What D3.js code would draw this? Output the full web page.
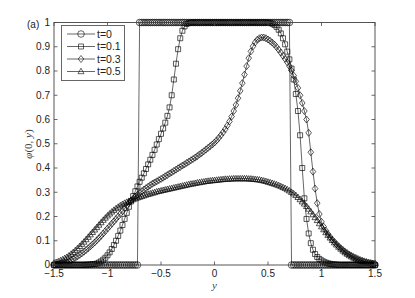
<!DOCTYPE html>
<html>
<head>
<meta charset="utf-8">
<script src="https://cdn.jsdelivr.net/npm/d3@7"></script>
<style>
  body { margin: 0; background: #fff; }
  .tick-label { font-family: "Liberation Sans", Arial, sans-serif; font-size: 10px; fill: #222; }
  .legend-label { font-family: "Liberation Sans", Arial, sans-serif; font-size: 10.5px; fill: #222; }
  .axis-title { font-family: "Liberation Serif", "DejaVu Serif", serif; font-size: 11px; fill: #444; }
</style>
</head>
<body>
<script>
//sample positions y = -1.5 : 0.02 : 1.5
var yGrid = d3.range(151).map(function(i){ return +(-1.5 + i * 0.02).toFixed(2); });

//phi(0,y) at t = 0
var phiT0 = [
  0,0,0,0,0,0,0,0,0,0,
  0,0,0,0,0,0,0,0,0,0,
  0,0,0,0,0,0,0,0,0,0,
  0,0,0,0,0,0,0,0,0,0,
  1,1,1,1,1,1,1,1,1,1,
  1,1,1,1,1,1,1,1,1,1,
  1,1,1,1,1,1,1,1,1,1,
  1,1,1,1,1,1,1,1,1,1,
  1,1,1,1,1,1,1,1,1,1,
  1,1,1,1,1,1,1,1,1,1,
  1,1,1,1,1,1,1,1,1,1,
  1,0,0,0,0,0,0,0,0,0,
  0,0,0,0,0,0,0,0,0,0,
  0,0,0,0,0,0,0,0,0,0,
  0,0,0,0,0,0,0,0,0,0,
  0
];

//t = 0.1
var phiT01 = [
  0,0,0,0,0,0,0,0,0,0,
  0,0,0,0,0,0.001,0.001,0.002,0.003,0.004,
  0.006,0.01,0.015,0.022,0.03,0.04,0.052,0.066,0.082,0.1,
  0.12,0.142,0.165,0.19,0.215,0.24,0.262,0.284,0.304,0.324,
  0.343,0.36,0.378,0.396,0.415,0.434,0.454,0.475,0.497,0.519,
  0.541,0.563,0.587,0.615,0.65,0.70,0.765,0.83,0.89,0.935,
  0.966,0.984,0.994,0.998,1,1,1,1,1,1,
  1,1,1,1,1,1,1,1,1,1,
  1,1,1,1,1,1,1,1,1,1,
  1,1,1,1,1,1,1,1,1,1,
  1,0.998,0.995,0.99,0.982,0.97,0.955,0.935,0.91,0.88,
  0.848,0.81,0.765,0.705,0.635,0.535,0.40,0.275,0.19,0.13,
  0.09,0.063,0.045,0.033,0.025,0.019,0.014,0.01,0.007,0.005,
  0.003,0.002,0.001,0,0,0,0,0,0,0,
  0,0,0,0,0,0,0,0,0,0,
  0
];

//t = 0.3
var phiT03 = [
  0.001,0.002,0.003,0.005,0.007,0.009,0.012,0.016,0.02,0.025,
  0.03,0.036,0.042,0.048,0.055,0.062,0.069,0.077,0.085,0.093,
  0.102,0.111,0.12,0.13,0.14,0.15,0.16,0.17,0.18,0.19,
  0.2,0.211,0.222,0.234,0.245,0.255,0.265,0.274,0.282,0.29,
  0.297,0.304,0.311,0.317,0.323,0.329,0.335,0.34,0.345,0.35,
  0.355,0.36,0.366,0.371,0.377,0.382,0.388,0.393,0.399,0.404,
  0.41,0.415,0.421,0.426,0.432,0.437,0.443,0.449,0.456,0.462,
  0.469,0.476,0.483,0.49,0.497,0.505,0.514,0.524,0.535,0.547,
  0.56,0.575,0.592,0.612,0.635,0.66,0.688,0.718,0.75,0.785,
  0.82,0.853,0.881,0.902,0.918,0.929,0.935,0.938,0.938,0.935,
  0.93,0.924,0.917,0.909,0.899,0.888,0.876,0.863,0.85,0.836,
  0.82,0.802,0.781,0.757,0.73,0.7,0.668,0.635,0.6,0.545,
  0.465,0.385,0.315,0.255,0.21,0.178,0.158,0.142,0.128,0.116,
  0.105,0.095,0.086,0.077,0.069,0.062,0.055,0.049,0.043,0.038,
  0.033,0.029,0.025,0.021,0.018,0.015,0.012,0.01,0.008,0.006,
  0.005
];

//t = 0.5
var phiT05 = [
  0.008,0.011,0.014,0.018,0.022,0.027,0.032,0.038,0.045,0.052,
  0.06,0.068,0.077,0.086,0.095,0.105,0.115,0.125,0.135,0.145,
  0.155,0.165,0.175,0.185,0.194,0.203,0.211,0.219,0.226,0.233,
  0.239,0.245,0.25,0.255,0.259,0.263,0.267,0.27,0.274,0.277,
  0.28,0.283,0.286,0.289,0.292,0.294,0.297,0.299,0.302,0.304,
  0.306,0.308,0.31,0.312,0.314,0.316,0.318,0.32,0.322,0.324,
  0.326,0.328,0.33,0.332,0.334,0.335,0.337,0.339,0.34,0.342,
  0.343,0.345,0.346,0.347,0.348,0.349,0.35,0.351,0.352,0.353,
  0.354,0.354,0.355,0.355,0.356,0.356,0.356,0.356,0.356,0.356,
  0.356,0.355,0.355,0.354,0.353,0.352,0.351,0.349,0.347,0.345,
  0.342,0.34,0.337,0.334,0.331,0.328,0.324,0.32,0.316,0.311,
  0.306,0.3,0.294,0.287,0.279,0.27,0.261,0.252,0.242,0.231,
  0.22,0.208,0.196,0.184,0.171,0.158,0.146,0.134,0.123,0.112,
  0.102,0.092,0.083,0.074,0.066,0.058,0.051,0.045,0.039,0.034,
  0.029,0.025,0.021,0.018,0.015,0.012,0.01,0.008,0.007,0.006,
  0.005
];

var seriesNames = ["t=0", "t=0.1", "t=0.3", "t=0.5"];
var seriesMarkers = ["circle", "square", "diamond", "triangle"];
var xTicks = [-1.5, -1, -0.5, 0, 0.5, 1, 1.5];
var yTicks = [0, 0.1, 0.2, 0.3, 0.4, 0.5, 0.6, 0.7, 0.8, 0.9, 1];

window.onload = drawChart();

function drawChart(){

    var width = 415,
        height = 298;

    var svg = d3.select("body")
        .append("svg")
        .attr("width", width)
        .attr("height", height);

    //plot box
    var x = d3.scaleLinear().domain([-1.5, 1.5]).range([54, 375]);
    var y = d3.scaleLinear().domain([0, 1]).range([265, 22.5]);

    var fmt = function(v){ return d3.format("")(v).replace("-", "\u2212"); };

    //marker shapes, matlab style
    function marker(kind){
        if (kind == "circle") return "M3.3,0A3.3,3.3 0 1,1 -3.3,0A3.3,3.3 0 1,1 3.3,0Z";
        if (kind == "square") return "M-2.5,-2.5H2.5V2.5H-2.5Z";
        if (kind == "diamond") return "M0,-3.5L2.8,0L0,3.5L-2.8,0Z";
        return "M0,-3.3L3,2.2H-3Z";
    }

    var allSeries = [phiT0, phiT01, phiT03, phiT05];

    var line = d3.line()
        .x(function(d, i){ return x(yGrid[i]); })
        .y(function(d){ return y(d); });

    var plot = svg.append("g");

    allSeries.forEach(function(vals, k){
        plot.append("path")
            .datum(vals)
            .attr("d", line)
            .attr("fill", "none")
            .attr("stroke", "#000")
            .attr("stroke-width", 0.6);

        plot.selectAll(".m" + k)
            .data(vals)
            .enter()
            .append("path")
            .attr("class", "m" + k)
            .attr("transform", function(d, i){ return "translate(" + x(yGrid[i]) + "," + y(d) + ")"; })
            .attr("d", marker(seriesMarkers[k]))
            .attr("fill", "none")
            .attr("stroke", "#000")
            .attr("stroke-width", 0.65);
    });

    //axes box
    var axisColor = "#444";
    svg.append("rect")
        .attr("x", x(-1.5))
        .attr("y", y(1))
        .attr("width", x(1.5) - x(-1.5))
        .attr("height", y(0) - y(1))
        .attr("fill", "none")
        .attr("stroke", axisColor)
        .attr("stroke-width", 0.9);

    //inward ticks on all four sides
    var tickLen = 3.5;
    xTicks.forEach(function(t){
        svg.append("line").attr("x1", x(t)).attr("x2", x(t))
            .attr("y1", y(0)).attr("y2", y(0) - tickLen)
            .attr("stroke", axisColor).attr("stroke-width", 0.8);
        svg.append("line").attr("x1", x(t)).attr("x2", x(t))
            .attr("y1", y(1)).attr("y2", y(1) + tickLen)
            .attr("stroke", axisColor).attr("stroke-width", 0.8);
        svg.append("text").attr("class", "tick-label")
            .attr("x", x(t)).attr("y", 277)
            .attr("text-anchor", "middle")
            .text(fmt(t));
    });
    yTicks.forEach(function(t){
        svg.append("line").attr("x1", x(-1.5)).attr("x2", x(-1.5) + tickLen)
            .attr("y1", y(t)).attr("y2", y(t))
            .attr("stroke", axisColor).attr("stroke-width", 0.8);
        svg.append("line").attr("x1", x(1.5)).attr("x2", x(1.5) - tickLen)
            .attr("y1", y(t)).attr("y2", y(t))
            .attr("stroke", axisColor).attr("stroke-width", 0.8);
        svg.append("text").attr("class", "tick-label")
            .attr("x", 50).attr("y", y(t))
            .attr("dy", "0.33em")
            .attr("text-anchor", "end")
            .text(fmt(t));
    });

    //panel tag
    svg.append("text").attr("class", "tick-label")
        .attr("x", 27).attr("y", 27.5)
        .text("(a)");

    //axis titles
    svg.append("text").attr("class", "axis-title")
        .attr("x", 214.5).attr("y", 289)
        .attr("text-anchor", "middle")
        .attr("font-style", "italic")
        .text("y");

    var yt = svg.append("text").attr("class", "axis-title")
        .attr("transform", "translate(32,144) rotate(-90)")
        .attr("text-anchor", "middle");
    yt.append("tspan").attr("font-style", "italic").text("\u03c6");
    yt.append("tspan").text("(0, ");
    yt.append("tspan").attr("font-style", "italic").text("y");
    yt.append("tspan").text(")");

    //legend
    var legend = svg.append("g");
    legend.append("rect")
        .attr("x", 61.5).attr("y", 25.5)
        .attr("width", 63).attr("height", 55)
        .attr("fill", "#fff")
        .attr("stroke", "#666")
        .attr("stroke-width", 1);

    var rowY = d3.scaleLinear().domain([0, 3]).range([34, 71.5]);
    seriesNames.forEach(function(name, k){
        var ry = rowY(k);
        legend.append("line")
            .attr("x1", 67).attr("x2", 95)
            .attr("y1", ry).attr("y2", ry)
            .attr("stroke", "#000").attr("stroke-width", 0.6);
        legend.append("path")
            .attr("transform", "translate(81," + ry + ")")
            .attr("d", marker(seriesMarkers[k]))
            .attr("fill", "none")
            .attr("stroke", "#000")
            .attr("stroke-width", 0.6);
        legend.append("text").attr("class", "legend-label")
            .attr("x", 97).attr("y", ry)
            .attr("dy", "0.35em")
            .text(name);
    });
}
</script>
</body>
</html>
